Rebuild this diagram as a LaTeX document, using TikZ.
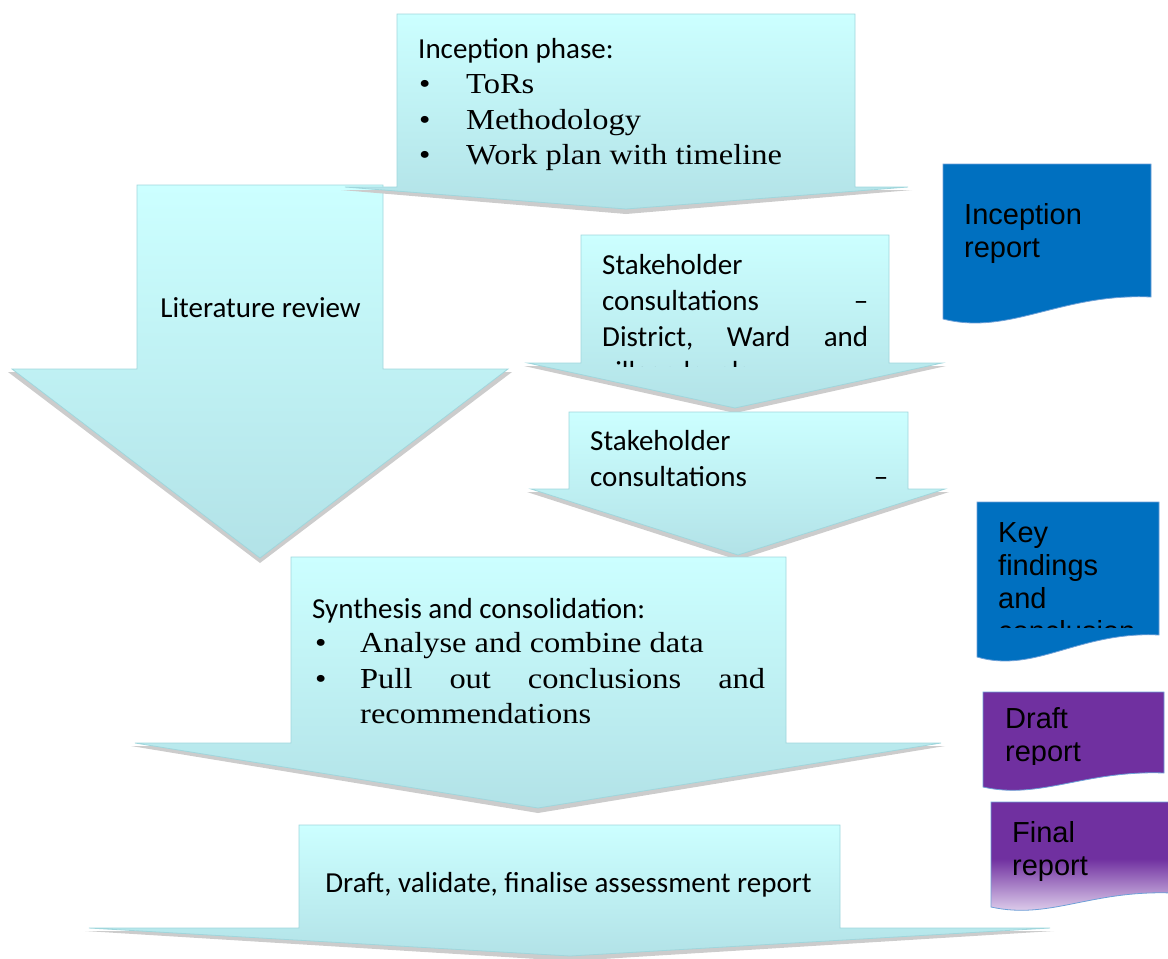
\documentclass[tikz,border=0pt]{standalone}
\usepackage{fontspec}
\newfontfamily\carl{Carlito}
\newfontfamily\palser[FakeStretch=1.12]{Liberation Serif}
\newfontfamily\arl{Liberation Sans}
\definecolor{arrowtop}{RGB}{204,255,255}
\definecolor{arrowbot}{RGB}{178,226,231}
\definecolor{arrowline}{RGB}{160,214,220}
\definecolor{shadowgray}{RGB}{204,204,204}
\definecolor{docblue}{RGB}{0,112,192}
\definecolor{docpurp}{RGB}{112,48,160}
\definecolor{docline}{RGB}{110,160,215}
\definecolor{fadelav}{RGB}{240,232,248}
\pgfdeclareverticalshading{finalshade}{100bp}{color(0bp)=(fadelav); color(25bp)=(fadelav); color(51bp)=(docpurp); color(100bp)=(docpurp)}
\tikzset{
  sans/.style={font=\carl\fontsize{29}{35}\selectfont, inner sep=0pt, anchor=base west},
  sanscenter/.style={font=\carl\fontsize{29}{35}\selectfont, inner sep=0pt, anchor=base},
  serif/.style={font=\palser\fontsize{29}{35}\selectfont, inner sep=0pt, anchor=base west},
  doctext/.style={font=\arl\fontsize{29}{33}\selectfont, inner sep=0pt, anchor=base west},
  arrowbody/.style={top color=arrowtop, bottom color=arrowbot, draw=arrowline, line width=0.8pt, line join=miter},
  arrowshadow/.style={fill=shadowgray},
  docbox/.style={draw=docline, line width=0.8pt}
}
% #1 shaft left, #2 shaft right, #3 top, #4 head line, #5 wing left, #6 wing right, #7 tip x, #8 tip y
\newcommand\blockarrow[8]{%
  \fill[arrowshadow] (#5-4,#4+3) -- (#6+4,#4+3) -- (#7,#8+5) -- cycle;
  \path[arrowbody] (#1,#3) -- (#2,#3) -- (#2,#4) -- (#6,#4) -- (#7,#8) -- (#5,#4) -- (#1,#4) -- cycle;
}
\begin{document}
\begin{tikzpicture}[x=1pt,y=-1pt]
\useasboundingbox (0,0) rectangle (1168,959);
\clip (0,0) rectangle (1168,959);

% Literature review
\blockarrow{137}{383}{185}{369}{12}{508}{260}{558}
\node[sanscenter] (lit) at (260.5,317) {Literature review};

% Inception phase
\blockarrow{397}{855}{14}{187}{345}{908}{626}{209}
\node[sans] (inc0) at (418,58) {Inception phase:};
\node[serif] (inc1) at (419,93.5) {\makebox[47pt][l]{\textbullet}ToRs};
\node[serif] (inc2) at (419,129) {\makebox[47pt][l]{\textbullet}Methodology};
\node[serif] (inc3) at (419,164.5) {\makebox[47pt][l]{\textbullet}Work plan with timeline};

% Stakeholder consultations 1
\blockarrow{581}{889}{235}{363}{528}{942}{735}{408}
\node[sans] (s1a) at (602,274) {Stakeholder};
\node[sans] (s1b) at (602,310) {\makebox[266pt][l]{consultations\hfill –}};
\node[sans] (s1c) at (602,346) {\makebox[266pt][l]{District,\hfill Ward\hfill and}};
\begin{scope}
  \clip (580,300) rectangle (890,366);
  \node[sans] (s1d) at (602,381.5) {village levels};
\end{scope}

% Stakeholder consultations 2
\blockarrow{569}{908}{412}{489}{531}{945}{738}{555}
\node[sans] (s2a) at (590,450) {Stakeholder};
\node[sans] (s2b) at (590,486) {\makebox[298pt][l]{consultations\hfill –}};

% Synthesis
\blockarrow{291}{786}{557}{743}{135}{941}{538}{808}
\node[sans] (syn0) at (312,618) {Synthesis and consolidation:};
\node[serif] (syn1) at (315,652) {\makebox[45pt][l]{\textbullet}Analyse and combine data};
\node[serif] (syn2) at (315,688) {\makebox[45pt][l]{\textbullet}\makebox[405pt][l]{Pull\hfill out\hfill conclusions\hfill and}};
\node[serif] (syn3) at (360,723) {recommendations};

% Draft, validate, finalise
\blockarrow{299}{840}{825}{928}{89}{1050}{570}{956}
\node[sanscenter] (fin) at (568.5,892) {Draft, validate, finalise assessment report};

% Documents
\path[docbox, fill=docblue] (943,164) -- (1151,164) -- (1151,297) .. controls (1060,293) and (1010,336) .. (943,319) -- cycle;
\node[doctext] (ir1) at (964,224) {Inception};
\node[doctext] (ir2) at (964,257) {report};

\path[docbox, fill=docblue] (977,502) -- (1159,502) -- (1159,635) .. controls (1079,631) and (1035,674) .. (977,657) -- cycle;
\node[doctext] (kf1) at (998,542) {Key};
\node[doctext] (kf2) at (998,575) {findings};
\node[doctext] (kf3) at (998,608) {and};
\begin{scope}
  \clip (977,600) rectangle (1159,627);
  \node[doctext] (kf4) at (998,641) {conclusion};
\end{scope}

\path[docbox, fill=docpurp] (983,692) -- (1164,692) -- (1164,773) .. controls (1085,770) and (1040,800) .. (983,787) -- cycle;
\node[doctext] (dr1) at (1005,728) {Draft};
\begin{scope}
  \clip (983,700) rectangle (1164,764);
  \node[doctext] (dr2) at (1005,761) {report};
\end{scope}

\path[docbox, shading=finalshade] (991,802) -- (1172,802) -- (1172,893) .. controls (1090,890) and (1050,920) .. (991,907) -- cycle;
\node[doctext] (fr1) at (1012,842) {Final};
\node[doctext] (fr2) at (1012,875) {report};
\end{tikzpicture}
\end{document}
